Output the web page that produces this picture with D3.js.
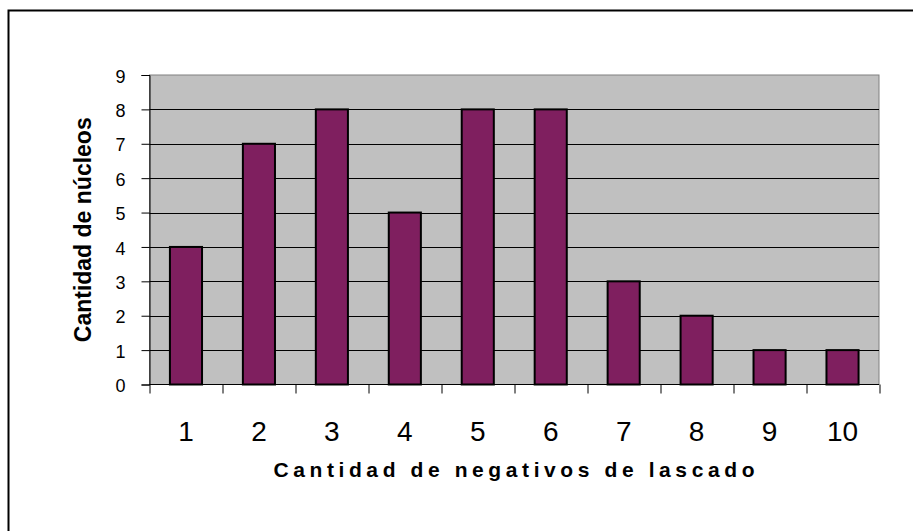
<!DOCTYPE html>
<html>
<head>
<meta charset="utf-8">
<script src="https://cdn.jsdelivr.net/npm/d3@7"></script>
<style>
  body { margin: 0; background: #fff; }
  svg text { font-family: Arial, "Liberation Sans", sans-serif; fill: #000; }
</style>
</head>
<body>
<div id="chart"></div>
<script>
// data
const categories = ["1", "2", "3", "4", "5", "6", "7", "8", "9", "10"];
const counts = [4, 7, 8, 5, 8, 8, 3, 2, 1, 1];
const yTicks = [0, 1, 2, 3, 4, 5, 6, 7, 8, 9];

const W = 913, H = 531;
const margin = { top: 75, right: 34, bottom: 146.5, left: 149.5 },
    width = W - margin.left - margin.right,
    height = H - margin.top - margin.bottom;

const svg = d3.select("#chart")
    .append("svg")
    .attr("width", W)
    .attr("height", H);

// outer frame (only top and left visible)
svg.append("rect")
    .attr("x", 8.5).attr("y", 10.5)
    .attr("width", W + 20).attr("height", H + 20)
    .attr("fill", "none")
    .attr("stroke", "#000")
    .attr("stroke-width", 2);

const g = svg.append("g")
    .attr("transform", `translate(${margin.left}, ${margin.top})`);

const x = d3.scaleBand()
    .domain(categories)
    .range([0, width])
    .paddingInner(0.56)
    .paddingOuter(0.28);

const y = d3.scaleLinear()
    .domain([0, 9])
    .range([height, 0]);

// plot background
g.append("rect")
    .attr("width", width)
    .attr("height", height)
    .attr("fill", "#c0c0c0")
    .attr("stroke", "#808080")
    .attr("stroke-width", 1);

// gridlines
g.append("g")
    .selectAll("line")
    .data(yTicks.filter(d => d > 0 && d < 9))
    .join("line")
    .attr("x1", 0).attr("x2", width)
    .attr("y1", d => Math.round(y(d)) + 0.5)
    .attr("y2", d => Math.round(y(d)) + 0.5)
    .attr("stroke", "#000")
    .attr("stroke-width", 1);

// Y axis
const yAxis = g.append("g")
    .call(d3.axisLeft(y).tickValues(yTicks).tickSize(8).tickPadding(16))
    .attr("font-size", 18)
    .attr("font-family", null);
yAxis.selectAll("text").attr("dy", "0.4em");
yAxis.select(".domain").attr("stroke", "#000");

// X axis with ticks between categories
const xAxis = g.append("g")
    .attr("transform", `translate(0, ${height})`);
xAxis.append("line")
    .attr("x1", 0).attr("x2", width)
    .attr("stroke", "#000");
const step = x.step();
xAxis.selectAll(".sep")
    .data(d3.range(categories.length + 1))
    .join("line")
    .attr("x1", i => Math.round(i * step) + 0.5)
    .attr("x2", i => Math.round(i * step) + 0.5)
    .attr("y1", 0).attr("y2", 9)
    .attr("stroke", "#000");
xAxis.selectAll("text")
    .data(categories)
    .join("text")
    .attr("x", d => x(d) + x.bandwidth() / 2)
    .attr("y", 56)
    .attr("text-anchor", "middle")
    .attr("font-size", 28)
    .text(d => d);

// bars
g.append("g")
    .selectAll("rect")
    .data(counts)
    .join("rect")
    .attr("x", (d, i) => x(categories[i]))
    .attr("y", d => y(d))
    .attr("width", x.bandwidth())
    .attr("height", d => height - y(d))
    .attr("fill", "#7f1f5f")
    .attr("stroke", "#000")
    .attr("stroke-width", 2);

// axis titles
svg.append("text")
    .attr("x", margin.left + width / 2 + 2)
    .attr("y", 477)
    .attr("text-anchor", "middle")
    .attr("font-size", 21)
    .attr("font-weight", "bold")
    .style("letter-spacing", "4.6px")
    .text("Cantidad de negativos de lascado");

svg.append("text")
    .attr("transform", `translate(91, ${margin.top + height / 2}) rotate(-90)`)
    .attr("text-anchor", "middle")
    .attr("font-size", 23)
    .attr("font-weight", "bold")
    .text("Cantidad de núcleos");
</script>
</body>
</html>
